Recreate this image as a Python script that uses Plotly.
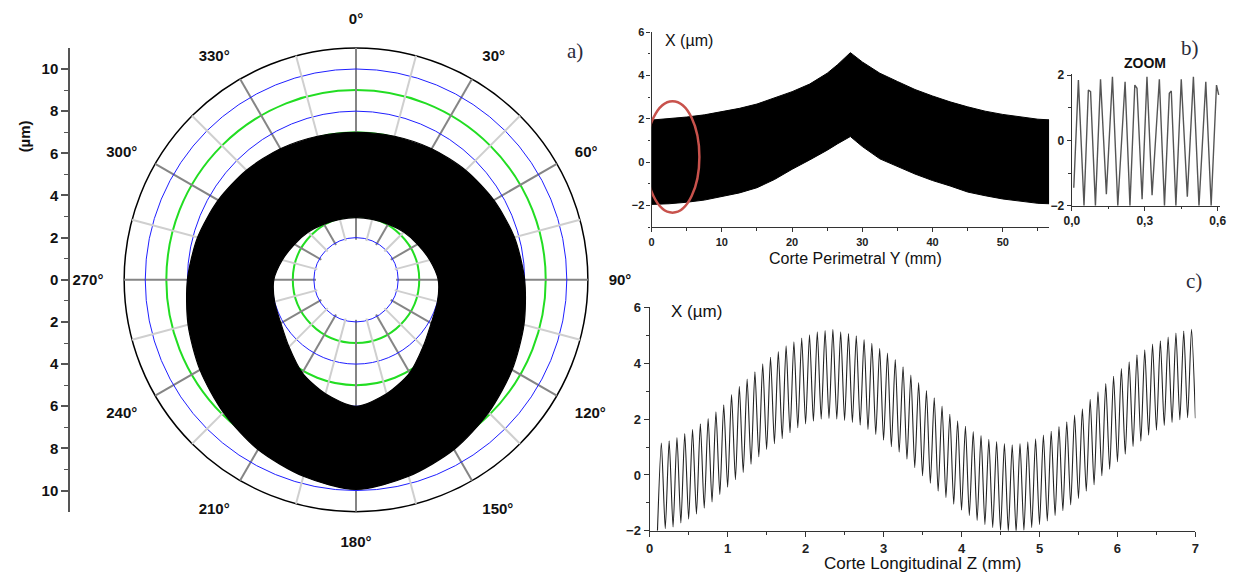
import plotly.graph_objects as go

W, H = 1239, 581

# ---------------- data ----------------
# a) polar roundness map: envelope of the dense measured band (µm), every 15°
polar_theta = [0, 15, 30, 45, 60, 75, 90, 105, 120, 135, 150, 165, 180,
               195, 210, 225, 240, 255, 270, 285, 300, 315, 330, 345, 360]
polar_r_outer = [7.0, 7.05, 7.18, 7.35, 7.55, 7.78, 8.0, 8.25, 8.55, 8.9, 9.3, 9.65, 9.95,
                 9.65, 9.3, 8.9, 8.55, 8.25, 8.0, 7.78, 7.55, 7.35, 7.18, 7.05, 7.0]
polar_r_inner = [2.95, 2.97, 3.05, 3.2, 3.37, 3.62, 3.9, 4.0, 4.12, 4.5, 5.1, 5.6, 6.0,
                 5.6, 5.1, 4.5, 4.12, 4.0, 3.9, 3.62, 3.37, 3.2, 3.05, 2.97, 2.95]
rings_green = [3, 5, 7, 9]
rings_blue = [2, 4, 6, 8, 10]
angle_ticks = [0, 30, 60, 90, 120, 150, 180, 210, 240, 270, 300, 330]
angle_labels = ["0°", "30°", "60°", "90°", "120°", "150°", "180°", "210°", "240°", "270°", "300°", "330°"]
spokes_light = [15, 45, 75, 105, 135, 165, 195, 225, 255, 285, 315, 345]
left_ticks = [-10, -8, -6, -4, -2, 0, 2, 4, 6, 8, 10]
left_labels = ["10", "8", "6", "4", "2", "0", "2", "4", "6", "8", "10"]

# b) perimetral cut: envelope of the dense band
perim_y = [0, 2.5, 5, 7.5, 10, 12.5, 15, 17.5, 20, 22.5, 25, 26.5, 28.3,
           30, 32.5, 35, 37.5, 40, 42.5, 45, 47.5, 50, 52.5, 55, 56.6]
perim_upper = [1.94, 2.0, 2.08, 2.18, 2.33, 2.48, 2.68, 2.95, 3.25, 3.6, 4.1, 4.5, 5.05,
               4.62, 4.1, 3.72, 3.35, 3.05, 2.78, 2.55, 2.35, 2.2, 2.08, 1.98, 1.95]
perim_lower = [-1.95, -1.92, -1.85, -1.75, -1.6, -1.42, -1.18, -0.8, -0.33, 0.1, 0.55, 0.85, 1.18,
               0.72, 0.15, -0.2, -0.55, -0.85, -1.1, -1.38, -1.55, -1.7, -1.8, -1.9, -1.92]
highlight_x = [-0.85, 6.8]
highlight_y = [-2.33, 2.81]

# b) ZOOM inset
zoom_x = [0.008, 0.027, 0.050, 0.068, 0.077, 0.097, 0.118, 0.142, 0.167, 0.189, 0.219, 0.239,
          0.259, 0.268, 0.289, 0.309, 0.330, 0.360, 0.381, 0.401, 0.409, 0.428, 0.450, 0.475,
          0.500, 0.523, 0.551, 0.573, 0.595, 0.604]
zoom_v = [-1.45, 1.85, -2.0, 1.55, 1.5, -2.0, 1.88, -1.65, 1.95, -2.0, 1.8, -2.0,
          1.7, 1.6, -1.8, 1.95, -1.68, 1.88, -2.0, 1.45, 1.52, -2.0, 1.88, -1.72,
          1.95, -2.0, 1.8, -2.0, 1.7, 1.4]

# c) longitudinal cut: peaks and troughs of the profile
long_start = (0.10, -2.0)
long_end = (7.0, 2.03)
peak_z = [0.15, 0.25, 0.35, 0.45, 0.55, 0.65, 0.75, 0.85, 0.95, 1.05, 1.15, 1.25, 1.35, 1.45,
          1.55, 1.65, 1.75, 1.85, 1.95, 2.05, 2.15, 2.25, 2.35, 2.45, 2.55, 2.65, 2.75, 2.85,
          2.95, 3.05, 3.15, 3.25, 3.35, 3.45, 3.55, 3.65, 3.75, 3.85, 3.95, 4.05, 4.15, 4.25,
          4.35, 4.45, 4.55, 4.65, 4.75, 4.85, 4.95, 5.05, 5.15, 5.25, 5.35, 5.45, 5.55, 5.65,
          5.75, 5.85, 5.95, 6.05, 6.15, 6.25, 6.35, 6.45, 6.55, 6.65, 6.75, 6.85, 6.95]
peak_x = [1.14, 1.22, 1.34, 1.48, 1.63, 1.83, 2.02, 2.26, 2.51, 2.88, 3.17, 3.43, 3.69, 3.98,
          4.21, 4.42, 4.62, 4.77, 4.90, 5.02, 5.12, 5.17, 5.21, 5.12, 5.06, 4.98, 4.85, 4.71,
          4.53, 4.36, 4.13, 3.87, 3.58, 3.31, 3.02, 2.76, 2.47, 2.17, 1.94, 1.74, 1.55, 1.41,
          1.28, 1.2, 1.12, 1.08, 1.12, 1.19, 1.29, 1.43, 1.56, 1.73, 1.9, 2.14, 2.37, 2.71,
          2.98, 3.27, 3.53, 3.81, 4.05, 4.3, 4.48, 4.69, 4.8, 4.94, 5.08, 5.15, 5.21]
trough_z = [0.2, 0.3, 0.4, 0.5, 0.6, 0.7, 0.8, 0.9, 1.0, 1.1, 1.2, 1.3, 1.4, 1.5, 1.6, 1.7,
            1.8, 1.9, 2.0, 2.1, 2.2, 2.3, 2.4, 2.5, 2.6, 2.7, 2.8, 2.9, 3.0, 3.1, 3.2, 3.3,
            3.4, 3.5, 3.6, 3.7, 3.8, 3.9, 4.0, 4.1, 4.2, 4.3, 4.4, 4.5, 4.6, 4.7, 4.8, 4.9,
            5.0, 5.1, 5.2, 5.3, 5.4, 5.5, 5.6, 5.7, 5.8, 5.9, 6.0, 6.1, 6.2, 6.3, 6.4, 6.5,
            6.6, 6.7, 6.8, 6.9]
trough_x = [-1.92, -1.86, -1.72, -1.58, -1.40, -1.19, -0.97, -0.70, -0.44, -0.17, 0.09, 0.38,
            0.65, 0.91, 1.12, 1.30, 1.51, 1.69, 1.83, 1.92, 2.0, 2.02, 2.0, 1.95, 1.88, 1.78,
            1.63, 1.45, 1.24, 1.01, 0.81, 0.56, 0.26, -0.03, -0.30, -0.58, -0.81, -1.05, -1.26,
            -1.45, -1.63, -1.77, -1.88, -1.98, -2.02, -2.04, -1.98, -1.88, -1.77, -1.65, -1.45,
            -1.28, -1.07, -0.84, -0.58, -0.35, -0.03, 0.2, 0.47, 0.74, 1.02, 1.21, 1.42, 1.6,
            1.77, 1.88, 1.98, 2.05]

# ---------------- helpers ----------------
def px_x(p):
    return p / W


def px_y(p):
    return 1 - p / H


FONT = "Liberation Sans, Arial, sans-serif"
SERIF = "Liberation Serif, Times New Roman, serif"
AXC = "#333333"
R_MIN = 1.9
R_MAX = 11

fig = go.Figure()

# invisible traces so that the stacked polar layers are drawn
for sp, r0 in (("polar", 0), ("polar2", R_MIN)):
    fig.add_trace(go.Scatterpolar(theta=[0], r=[r0 + 0.01], subplot=sp, mode="markers",
                                  marker=dict(opacity=0), hoverinfo="skip", showlegend=False))

# ---- a) polar band (ring with hole) ----
band_theta = polar_theta + [None] + polar_theta[::-1]
band_r = polar_r_outer + [None] + polar_r_inner[::-1]
fig.add_trace(go.Scatterpolar(
    theta=band_theta, r=band_r, subplot="polar3", mode="lines",
    line=dict(color="black", width=1.2, shape="spline", smoothing=0.8),
    fill="toself", fillcolor="black", connectgaps=False,
    hoverinfo="skip", showlegend=False, cliponaxis=False))

# dummy trace for the left diameter scale
fig.add_trace(go.Scatter(x=[0], y=[0], xaxis="x3", yaxis="y3", mode="markers",
                         marker=dict(opacity=0), hoverinfo="skip", showlegend=False))

# ---- b) perimetral band ----
fig.add_trace(go.Scatter(
    x=perim_y + perim_y[::-1], y=perim_upper + perim_lower[::-1],
    mode="lines", line=dict(color="black", width=1), fill="toself", fillcolor="black",
    xaxis="x", yaxis="y", hoverinfo="skip", showlegend=False))

# ---- b) zoom ----
fig.add_trace(go.Scatter(
    x=zoom_x, y=zoom_v, mode="lines", line=dict(color="#555555", width=1.4),
    xaxis="x4", yaxis="y4", hoverinfo="skip", showlegend=False, cliponaxis=False))

# ---- c) longitudinal ----
cz = [long_start[0]]
cx = [long_start[1]]
for i in range(len(peak_z)):
    cz.append(peak_z[i]); cx.append(peak_x[i])
    if i < len(trough_z):
        cz.append(trough_z[i]); cx.append(trough_x[i])
cz.append(long_end[0]); cx.append(long_end[1])
fig.add_trace(go.Scatter(
    x=cz, y=cx, mode="lines", line=dict(color="#222222", width=1.1, shape="spline", smoothing=0.7),
    xaxis="x2", yaxis="y2", hoverinfo="skip", showlegend=False))

polar_dom = dict(x=[px_x(352 - 238), px_x(352 + 238)], y=[px_y(280 + 238), px_y(280 - 238)])
hole = R_MIN / R_MAX

hidden_radial = dict(showticklabels=False, ticks="", showline=False)
common_axis = dict(showgrid=False, zeroline=False, showline=True, linecolor=AXC, linewidth=1.3,
                   ticks="outside", tickcolor=AXC, tickwidth=1.2, mirror=False)
TICKF_B = dict(size=11, color="#222222", weight="bold")
TICKF_Z = dict(size=12, color="#222222", weight="bold")
TICKF_C = dict(size=13, color="#222222", weight="bold")

fig.update_layout(
    width=W, height=H, margin=dict(l=0, r=0, t=0, b=0),
    paper_bgcolor="white", plot_bgcolor="white", showlegend=False,
    font=dict(family=FONT, color="#111111"),
    # base layer: outer circle, angle labels, green rings
    polar=dict(
        domain=polar_dom, hole=0, bgcolor="white",
        radialaxis=dict(range=[0, R_MAX], tickmode="array", tickvals=rings_green,
                        gridcolor="#22dd22", gridwidth=1.6, **hidden_radial),
        angularaxis=dict(rotation=90, direction="clockwise", tickmode="array",
                         tickvals=angle_ticks, ticktext=angle_labels, showgrid=False,
                         showline=True, linecolor="black", linewidth=1.5,
                         ticks="outside", ticklen=17, tickcolor="rgba(0,0,0,0)",
                         tickfont=dict(size=15, family=FONT, color="#111111", weight="bold"))),
    # middle layer: blue rings and dark spokes (start at r = 2)
    polar2=dict(
        domain=polar_dom, hole=hole, bgcolor="rgba(0,0,0,0)",
        radialaxis=dict(range=[R_MIN, R_MAX], tickmode="array", tickvals=rings_blue,
                        gridcolor="#1f1fff", gridwidth=1.4, **hidden_radial),
        angularaxis=dict(rotation=90, direction="clockwise", tickmode="array",
                         tickvals=angle_ticks, showticklabels=False, ticks="",
                         gridcolor="#858585", gridwidth=1.6, showline=False)),
    # top layer: light spokes + measured band
    polar3=dict(
        domain=polar_dom, hole=hole, bgcolor="rgba(0,0,0,0)",
        radialaxis=dict(range=[R_MIN, R_MAX], showgrid=False, **hidden_radial),
        angularaxis=dict(rotation=90, direction="clockwise", tickmode="array",
                         tickvals=spokes_light, showticklabels=False, ticks="",
                         gridcolor="#cfcfcf", gridwidth=1.6, showline=False)),
    # left diameter scale
    xaxis3=dict(domain=[px_x(63), px_x(80)], visible=False, range=[0, 1]),
    yaxis3=dict(domain=[px_y(280 + 238), px_y(280 - 238)], range=[-11, 11], anchor="x3",
                tickmode="array", tickvals=left_ticks, ticktext=left_labels,
                showgrid=False, zeroline=False, showline=True, linecolor="#555555",
                linewidth=2, ticks="outside", ticklen=7, tickwidth=1.5, tickcolor="#555555",
                minor=dict(ticks="outside", ticklen=4, tickvals=[-9, -7, -5, -3, -1, 1, 3, 5, 7, 9],
                           tickcolor="#555555", tickwidth=1.3),
                tickfont=dict(size=15, family=FONT, color="#111111", weight="bold")),
    # b) main
    xaxis=dict(domain=[px_x(651), px_x(1053)], range=[0, 56.6], anchor="y",
               tickvals=[0, 10, 20, 30, 40, 50], ticklen=4,
               minor=dict(ticks="outside", ticklen=2.5, tickvals=[5, 15, 25, 35, 45, 55], tickcolor=AXC),
               tickfont=TICKF_B, **common_axis),
    yaxis=dict(domain=[px_y(226), px_y(25.7)], range=[-3, 6], anchor="x",
               tickvals=[-2, 0, 2, 4, 6], ticklen=4,
               minor=dict(ticks="outside", ticklen=2.5, tickvals=[-3, -1, 1, 3, 5], tickcolor=AXC),
               tickfont=TICKF_B, **common_axis),
    # b) zoom
    xaxis4=dict(domain=[px_x(1076), px_x(1226)], range=[0, 0.61], anchor="y4",
                tickvals=[0, 0.3, 0.6], ticktext=["0,0", "0,3", "0,6"], ticklen=4,
                minor=dict(ticks="outside", ticklen=2.5, tickvals=[0.15, 0.45], tickcolor=AXC),
                tickfont=TICKF_Z, **common_axis),
    yaxis4=dict(domain=[px_y(204), px_y(68.4)], range=[-2, 2.05], anchor="x4",
                tickvals=[-2, 0, 2], ticklen=4,
                minor=dict(ticks="outside", ticklen=2.5, tickvals=[-1, 1], tickcolor=AXC),
                tickfont=TICKF_Z, **common_axis),
    # c)
    xaxis2=dict(domain=[px_x(649), px_x(1201)], range=[0, 7], anchor="y2",
                dtick=1, ticklen=5,
                minor=dict(ticks="outside", ticklen=3, dtick=0.5, tickcolor=AXC),
                tickfont=TICKF_C, **common_axis),
    yaxis2=dict(domain=[px_y(537.7), px_y(308.3)], range=[-2, 6], anchor="x2",
                dtick=2, ticklen=5,
                minor=dict(ticks="outside", ticklen=3, dtick=1, tickcolor=AXC),
                tickfont=TICKF_C, **common_axis),
)

fig.add_shape(type="circle", xref="x", yref="y",
              x0=highlight_x[0], x1=highlight_x[1], y0=highlight_y[0], y1=highlight_y[1],
              line=dict(color="#c8524c", width=2.5))

ann = [
    dict(text="(µm)", x=px_x(17), y=px_y(133), textangle=-90,
         font=dict(size=15, family=FONT, color="#111111", weight="bold")),
    dict(text="a)", x=px_x(573), y=px_y(45), font=dict(size=21, family=SERIF, color="#2b2b3b")),
    dict(text="b)", x=px_x(1196), y=px_y(42), font=dict(size=21, family=SERIF, color="#2b2b3b")),
    dict(text="c)", x=px_x(1200), y=px_y(281), font=dict(size=21, family=SERIF, color="#2b2b3b")),
    dict(text="X (µm)", x=px_x(689), y=px_y(34), font=dict(size=16, family=FONT, color="#111111")),
    dict(text="Corte Perimetral Y (mm)", x=px_x(857), y=px_y(258),
         font=dict(size=16, family=FONT, color="#111111")),
    dict(text="ZOOM", x=px_x(1150), y=px_y(57),
         font=dict(size=14, family=FONT, color="#111111", weight="bold")),
    dict(text="X (µm)", x=px_x(696), y=px_y(313), font=dict(size=17, family=FONT, color="#111111")),
    dict(text="Corte Longitudinal Z (mm)", x=px_x(925), y=px_y(571),
         font=dict(size=17, family=FONT, color="#111111")),
]
for a in ann:
    fig.add_annotation(xref="paper", yref="paper", showarrow=False,
                       xanchor="center", yanchor="middle", **a)

fig.write_html("out.html")
